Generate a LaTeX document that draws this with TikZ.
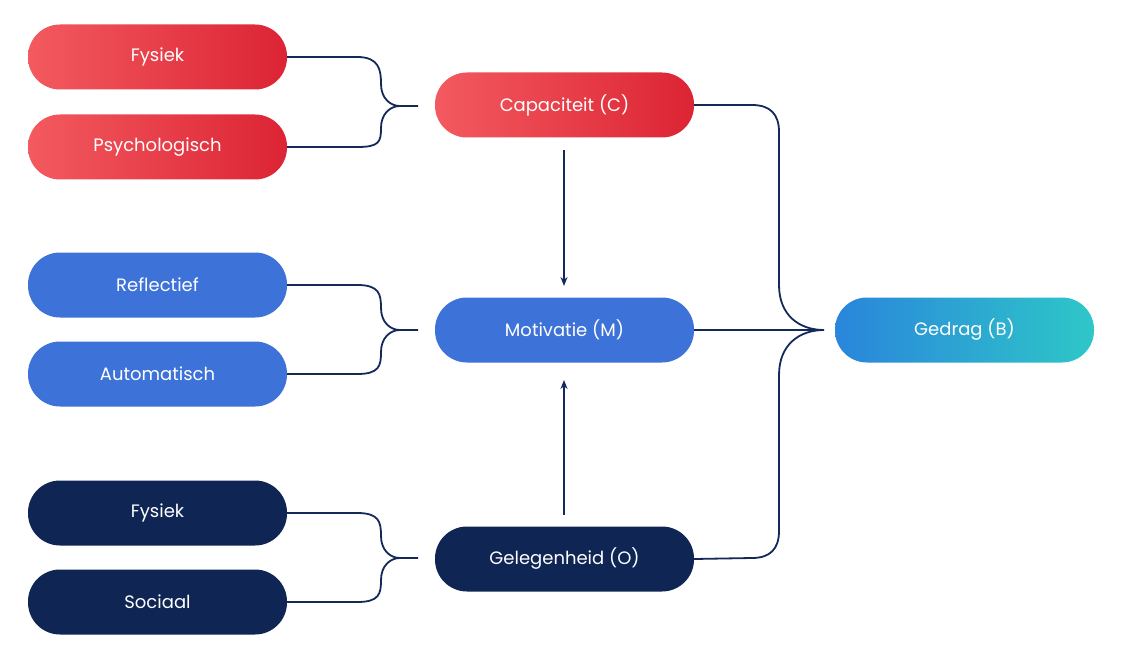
\documentclass[tikz,border=0pt]{standalone}
\usepackage{fontspec}
\setmainfont{Poppins}
\begin{document}
\begin{tikzpicture}[x=1pt,y=-1pt,
 box/.style={rounded corners=32pt,minimum width=259pt,minimum height=65pt,inner sep=0pt,text=white,font=\fontsize{18}{20}\selectfont},
 red/.style={box,left color=red1,right color=red2},
 blu/.style={box,fill=blue1},
 nav/.style={box,fill=navy1},
 ln/.style={draw=line1,line width=1.8pt},
 arr/.style={ln,-{Stealth[length=9pt,width=7pt]}}]
\definecolor{red1}{HTML}{F35A5F}
\definecolor{red2}{HTML}{DC2434}
\definecolor{blue1}{HTML}{3D72D9}
\definecolor{navy1}{HTML}{0F2554}
\definecolor{line1}{HTML}{14285A}
\definecolor{g1}{HTML}{2A85DB}
\definecolor{g2}{HTML}{2EC7C8}
\usetikzlibrary{arrows.meta}
\useasboundingbox (0,0) rectangle (1123,660);
\node[red] (f1) at (157.5,57) {Fysiek};
\node[red] (ps) at (157.5,147) {Psychologisch};
\node[blu] (re) at (157.5,285) {Reflectief};
\node[blu] (au) at (157.5,374) {Automatisch};
\node[nav] (f2) at (157.5,513) {Fysiek};
\node[nav] (so) at (157.5,602) {Sociaal};
\node[red] (C) at (564.5,105) {Capaciteit (C)};
\node[blu] (M) at (564.5,330) {Motivatie (M)};
\node[nav] (O) at (564.5,559) {Gelegenheid (O)};
\node[box,left color=g1,right color=g2] (B) at (964.5,330) {Gedrag (B)};
\coordinate (jC) at (418,106);
\coordinate (jM) at (418,330);
\coordinate (jO) at (418,558);
\coordinate (jB) at (824,330);
\foreach \a/\b/\j/\y in {f1/ps/jC/106, re/au/jM/330, f2/so/jO/558}{
 \draw[ln] (\a.east) -- ++(70,0) .. controls +(22,0) and +(0,-14) .. (381,\y-22) .. controls +(0,14) and +(-10,0) .. (400,\y) -- (\j);
 \draw[ln] (\b.east) -- ++(70,0) .. controls +(22,0) and +(0,14) .. (381,\y+22) .. controls +(0,-14) and +(-10,0) .. (400,\y);
}
\draw[ln] (C.east) -- (752,105) .. controls +(18,0) and +(0,-18) .. (779,132) -- (779,285) .. controls +(0,30) and +(-25,0) .. (jB);
\draw[ln] (O.east) -- (752,558) .. controls +(18,0) and +(0,18) .. (779,531) -- (779,375) .. controls +(0,-30) and +(-25,0) .. (jB);
\draw[ln] (M.east) -- (jB);
\coordinate (a1) at (564,150); \coordinate (a2) at (564,286);
\coordinate (b1) at (564,515); \coordinate (b2) at (564,380);
\draw[arr] (a1) -- (a2);
\draw[arr] (b1) -- (b2);
\end{tikzpicture}
\end{document}
